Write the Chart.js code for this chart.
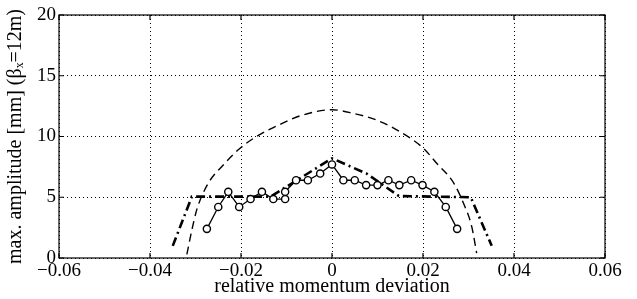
<!DOCTYPE html>
<html>
<head>
<meta charset="utf-8">
<script src="https://cdn.jsdelivr.net/npm/chart.js@4"></script>
<style>
  html, body { margin: 0; padding: 0; background: #fff; }
  #wrap { width: 637px; height: 299px; }
</style>
</head>
<body>
<div id="wrap"><canvas id="myChart"></canvas></div>
<script>
// measured amplitudes (circles, solid line)
const measX = [-0.0275, -0.025, -0.0228, -0.0204, -0.0179, -0.0154, -0.0129, -0.0103, -0.0103, -0.0079, -0.0053, -0.0026, 0,
               0.0025, 0.005, 0.0075, 0.01, 0.0124, 0.0148, 0.0174, 0.0199, 0.0225, 0.025, 0.0275];
const measY = [2.4, 4.2, 5.45, 4.2, 4.85, 5.45, 4.85, 4.85, 5.45, 6.4, 6.4, 6.95, 7.7,
               6.4, 6.4, 6.0, 6.0, 6.4, 6.0, 6.4, 6.0, 5.45, 4.2, 2.4];

// dashed curve
const dashX = [-0.0319, -0.0308, -0.0297, -0.0272, -0.0239, -0.0202, -0.0166, -0.0114, -0.007, 0,
               0.0047, 0.0098, 0.0149, 0.0201, 0.023, 0.0267, 0.0289, 0.0307, 0.0318];
const dashY = [0.3, 2.3, 4.0, 6.15, 7.65, 9.03, 10.0, 11.0, 11.7, 12.2,
               11.9, 11.35, 10.4, 9.03, 7.8, 6.2, 4.5, 2.6, 0.4];

// dash-dot curve
const dotX = [-0.035, -0.0308, -0.0135, 0, 0.0076, 0.0147, 0.0305, 0.0351];
const dotY = [1.0, 5.05, 5.05, 8.2, 6.95, 5.1, 5.0, 1.0];

const xTicks = [-0.06, -0.04, -0.02, 0, 0.02, 0.04, 0.06];
const yTicks = [0, 5, 10, 15, 20];

const pts = (xs, ys) => xs.map((x, i) => ({ x: x, y: ys[i] }));
const family = '"Liberation Serif", "Times New Roman", serif';
const tickFont = { family: family, size: 19 };
const titleFont = { family: family, size: 20 };

function fmtX(v) {
  if (Math.abs(v) < 1e-9) return '0';
  return (v < 0 ? '\u2212' : '') + Math.abs(v).toFixed(2);
}

// frame with inward ticks
const framePlugin = {
  id: 'frame',
  afterDraw(chart) {
    const { ctx, chartArea: a, scales } = chart;
    ctx.save();
    ctx.strokeStyle = '#000';
    ctx.lineWidth = 1.2;
    ctx.strokeRect(a.left, a.top, a.right - a.left, a.bottom - a.top);
    ctx.beginPath();
    xTicks.forEach(v => {
      const px = scales.x.getPixelForValue(v);
      ctx.moveTo(px, a.bottom); ctx.lineTo(px, a.bottom - 5);
      ctx.moveTo(px, a.top); ctx.lineTo(px, a.top + 5);
    });
    yTicks.forEach(v => {
      const py = scales.y.getPixelForValue(v);
      ctx.moveTo(a.left, py); ctx.lineTo(a.left + 5, py);
      ctx.moveTo(a.right, py); ctx.lineTo(a.right - 5, py);
    });
    ctx.stroke();
    ctx.restore();
  }
};

const ctx = document.getElementById('myChart').getContext('2d');
const myChart = new Chart(ctx, {
  type: 'line',
  data: {
    datasets: [
      {
        data: pts(measX, measY),
        borderColor: '#000',
        borderWidth: 1.3,
        pointRadius: 3.6,
        pointBorderWidth: 1.4,
        pointBackgroundColor: '#fff',
        pointBorderColor: '#000',
        tension: 0
      },
      {
        data: pts(dashX, dashY),
        borderColor: '#000',
        borderWidth: 1.4,
        borderDash: [8, 5],
        pointRadius: 0,
        cubicInterpolationMode: 'monotone'
      },
      {
        data: pts(dotX, dotY),
        borderColor: '#000',
        borderWidth: 2.6,
        borderDash: [9, 4, 2, 4],
        pointRadius: 0,
        tension: 0
      }
    ]
  },
  options: {
    responsive: true,
    maintainAspectRatio: false,
    animation: false,
    layout: { padding: { left: 4, right: 32, top: 15, bottom: 0 } },
    plugins: { legend: { display: false }, tooltip: { enabled: false } },
    scales: {
      x: {
        type: 'linear',
        min: -0.06,
        max: 0.06,
        afterBuildTicks: s => { s.ticks = xTicks.map(v => ({ value: v })); },
        afterFit: s => { s.height = 41; },
        grid: { color: '#000', lineWidth: 1, drawTicks: false },
        border: { display: false, dash: [1, 3] },
        ticks: { color: '#000', font: tickFont, padding: 2, maxRotation: 0, callback: v => fmtX(v) },
        title: { display: true, text: 'relative momentum deviation', color: '#000', font: titleFont, padding: 0 }
      },
      y: {
        min: 0,
        max: 20,
        afterBuildTicks: s => { s.ticks = yTicks.map(v => ({ value: v })); },
        afterFit: s => { s.width = 55; },
        grid: { color: '#000', lineWidth: 1, drawTicks: false },
        border: { display: false, dash: [1, 3] },
        ticks: { color: '#000', font: tickFont, padding: 3 },
        title: { display: true, text: 'max. amplitude [mm] (\u03B2\u2093=12m)', color: '#000', font: titleFont, padding: 0 }
      }
    }
  },
  plugins: [framePlugin]
});
</script>
</body>
</html>
